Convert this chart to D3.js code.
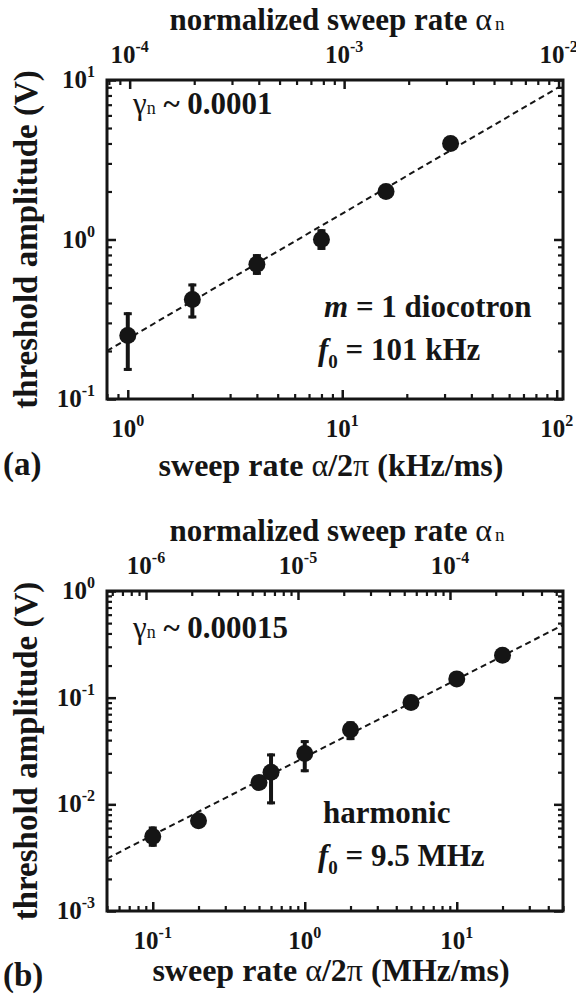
<!DOCTYPE html>
<html>
<head>
<meta charset="utf-8">
<script src="https://cdn.jsdelivr.net/npm/d3@7"></script>
<style>
  body { margin: 0; background: #fff; }
  svg { display: block; font-family: "Liberation Serif", "Times New Roman", serif; font-weight: bold; }
  text { fill: #151515; }
</style>
</head>
<body>
<div id="chart"></div>
<script>
// panel (a): m = 1 diocotron, f0 = 101 kHz
const rateA = [1, 2, 4, 8, 16, 32];
const ampA = [0.25, 0.42, 0.7, 1.0, 2.0, 4.0];
const errLoA = [0.15, 0.32, 0.6, 0.86, null, null];
const errHiA = [0.35, 0.53, 0.81, 1.16, null, null];
const fitA = [[0.8, 0.2], [102, 9.0]];
const xExpA = [0, 1, 2];
const yExpA = [-1, 0, 1];
const topExpA = [-4, -3, -2];

// panel (b): harmonic, f0 = 9.5 MHz
const rateB = [0.1, 0.2, 0.5, 0.6, 1, 2, 5, 10, 20];
const ampB = [0.005, 0.007, 0.016, 0.02, 0.03, 0.05, 0.09, 0.15, 0.25];
const errLoB = [0.004, 0.006, null, 0.01, 0.02, 0.04, null, null, null];
const errHiB = [0.0062, 0.008, null, 0.03, 0.04, 0.06, null, null, null];
const fitB = [[0.05, 0.0031], [50, 0.48]];
const xExpB = [-1, 0, 1];
const yExpB = [-3, -2, -1, 0];
const topExpB = [-6, -5, -4];

const ink = "#151515";
const width = 576;
const height = 1001;

const svg = d3.select("#chart").append("svg")
  .attr("width", width)
  .attr("height", height);

function powLabel(g, x, y, exp, anchor) {
  const t = g.append("text")
    .attr("x", x)
    .attr("y", y)
    .attr("text-anchor", anchor)
    .style("font-size", "25px");
  t.append("tspan").text("10");
  t.append("tspan").attr("dy", -11).style("font-size", "16px").text(exp);
}

function styleAxis(g, w) {
  g.select(".domain").remove();
  g.selectAll(".tick line").attr("stroke", ink).attr("stroke-width", w);
  g.selectAll(".tick text").remove();
}

function drawPanel(p) {
  const g = svg.append("g");
  const { left, right, top, bottom } = p.box;

  const x = d3.scaleLog().domain(p.xDomain).range([left, right]);
  const y = d3.scaleLog().domain(p.yDomain).range([bottom, top]);
  const xTop = d3.scaleLog().domain(p.xDomain.map((d) => d * p.ratio)).range([left, right]);

  const isMajor = (v) => Math.abs(Math.log10(v) - Math.round(Math.log10(v))) < 1e-6;
  const minor = (s) => s.ticks().filter((v) => !isMajor(v));
  const major = (s) => s.ticks().filter(isMajor);

  const axes = [
    [d3.axisBottom, x, `translate(0,${bottom})`],
    [d3.axisTop, xTop, `translate(0,${top})`],
    [d3.axisLeft, y, `translate(${left},0)`],
    [d3.axisRight, y, `translate(${right},0)`],
  ];
  axes.forEach(([axis, scale, tr]) => {
    g.append("g").attr("transform", tr)
      .call(axis(scale).tickValues(minor(scale)).tickSize(-5).tickFormat(""))
      .call((a) => styleAxis(a, 2.2));
    g.append("g").attr("transform", tr)
      .call(axis(scale).tickValues(major(scale)).tickSize(-9).tickFormat(""))
      .call((a) => styleAxis(a, 2.5));
  });

  g.append("rect")
    .attr("x", left)
    .attr("y", top)
    .attr("width", right - left)
    .attr("height", bottom - top)
    .attr("fill", "none")
    .attr("stroke", ink)
    .attr("stroke-width", 3);

  // tick labels
  p.xExp.forEach((e) => powLabel(g, x(10 ** e), bottom + 38, e, "middle"));
  p.yExp.forEach((e) => powLabel(g, left - 12, y(10 ** e) + 8, e, "end"));
  p.topExp.forEach((e) => powLabel(g, xTop(10 ** e), top - 17, e, "middle"));

  // fit line
  g.append("path")
    .datum(p.fit)
    .attr("fill", "none")
    .attr("stroke", ink)
    .attr("stroke-width", 2)
    .attr("stroke-dasharray", "6,4")
    .attr("d", d3.line().x((d) => x(d[0])).y((d) => y(d[1])));

  const pts = p.rate.map((r, i) => ({ r, a: p.amp[i], lo: p.errLo[i], hi: p.errHi[i] }));
  const bars = pts.filter((d) => d.lo != null);

  g.selectAll(".err").data(bars).join("rect")
    .attr("x", (d) => x(d.r) - 2)
    .attr("y", (d) => y(d.hi))
    .attr("width", 4)
    .attr("height", (d) => y(d.lo) - y(d.hi))
    .attr("fill", ink);
  [["hi", 0], ["lo", -3]].forEach(([k, off]) => {
    g.selectAll(".cap-" + k).data(bars).join("rect")
      .attr("x", (d) => x(d.r) - 4)
      .attr("y", (d) => y(d[k]) + off)
      .attr("width", 8)
      .attr("height", 3)
      .attr("fill", ink);
  });

  g.selectAll("circle").data(pts).join("circle")
    .attr("cx", (d) => x(d.r))
    .attr("cy", (d) => y(d.a))
    .attr("r", 8.5)
    .attr("fill", ink);

  // axis titles
  const mid = (left + right) / 2;
  const tt = g.append("text").attr("x", mid + 2).attr("y", top - 50)
    .attr("text-anchor", "middle").style("font-size", "31px");
  tt.append("tspan").text("normalized sweep rate ");
  tt.append("tspan").style("font-weight", "normal").style("font-size", "32px").text("α");
  tt.append("tspan").attr("dx", 3).style("font-weight", "normal").style("font-size", "19px").text("n");

  const bt = g.append("text").attr("x", mid - 4).attr("y", bottom + p.titleGap)
    .attr("text-anchor", "middle").style("font-size", "32px");
  bt.append("tspan").text("sweep rate ");
  bt.append("tspan").style("font-weight", "normal").text("α");
  bt.append("tspan").text("/2");
  bt.append("tspan").style("font-weight", "normal").text("π");
  bt.append("tspan").text(` (${p.unit})`);

  g.append("text")
    .attr("transform", `translate(37,${(top + bottom) / 2}) rotate(-90)`)
    .attr("text-anchor", "middle")
    .style("font-size", "33px")
    .text("threshold amplitude (V)");

  g.append("text").attr("x", 3).attr("y", bottom + p.tagGap)
    .style("font-size", "33px").text(p.tag);

  // annotations
  const gm = g.append("text").attr("x", left + 26).attr("y", p.gammaY).style("font-size", "31px");
  gm.append("tspan").style("font-weight", "normal").text("γ");
  gm.append("tspan").style("font-weight", "normal").style("font-size", "18px").text("n");
  gm.append("tspan").text(" ~ " + p.gamma);

  p.notes(g);
}

function fLine(g, xPos, yPos, rest) {
  const t = g.append("text").attr("x", xPos).attr("y", yPos).style("font-size", "31px");
  t.append("tspan").style("font-style", "italic").text("f");
  t.append("tspan").attr("dy", 8).style("font-size", "19px").text("0");
  t.append("tspan").attr("dy", -8).text(" = " + rest);
}

drawPanel({
  box: { left: 107, right: 563, top: 80, bottom: 399 },
  xDomain: [0.8, 107],
  yDomain: [0.1, 10],
  ratio: 0.98e-4,
  rate: rateA, amp: ampA, errLo: errLoA, errHi: errHiA, fit: fitA,
  xExp: xExpA, yExp: yExpA, topExp: topExpA,
  unit: "kHz/ms", tag: "(a)", titleGap: 77, tagGap: 76,
  gamma: "0.0001", gammaY: 114,
  notes: (g) => {
    const t = g.append("text").attr("x", 324).attr("y", 317).style("font-size", "31px");
    t.append("tspan").style("font-style", "italic").text("m");
    t.append("tspan").text(" = 1 diocotron");
    fLine(g, 318, 360, "101 kHz");
  },
});

drawPanel({
  box: { left: 107, right: 563, top: 591, bottom: 911 },
  xDomain: [0.05, 50],
  yDomain: [0.001, 1],
  ratio: 1.108e-5,
  rate: rateB, amp: ampB, errLo: errLoB, errHi: errHiB, fit: fitB,
  xExp: xExpB, yExp: yExpB, topExp: topExpB,
  unit: "MHz/ms", tag: "(b)", titleGap: 70, tagGap: 75,
  gamma: "0.00015", gammaY: 638,
  notes: (g) => {
    g.append("text").attr("x", 323).attr("y", 823).style("font-size", "31px").text("harmonic");
    fLine(g, 318, 866, "9.5 MHz");
  },
});
</script>
</body>
</html>
